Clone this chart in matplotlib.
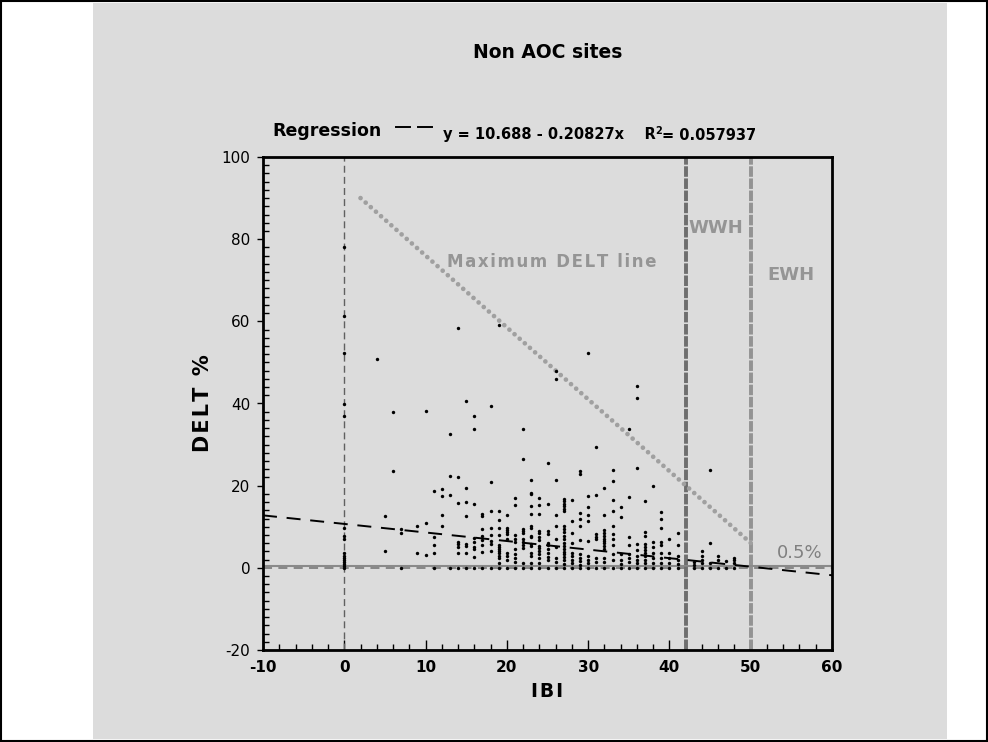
import matplotlib
matplotlib.use("Agg")
import matplotlib.pyplot as plt
from matplotlib.ticker import MultipleLocator
from matplotlib.patches import Rectangle

plt.rcParams["axes.unicode_minus"] = False

# ---------------- data ----------------
title = "Non AOC sites"
x_label = "IBI"
y_label = "DELT %"

ibi_values = [0, 4, 5, 6, 7, 9, 10, 11, 12, 13, 14, 15, 16, 17, 18, 19,
              20, 21, 22, 23, 24, 25, 26, 27, 28, 29, 30, 31, 32, 33, 34, 35,
              36, 37, 38, 39, 40, 41, 43, 44, 45, 46, 47, 48]

delt_values = [
    [78.0, 61.4, 52.4, 39.8, 37.0, 9.6, 7.7, 7.0, 3.6, 3.0, 2.5, 2.0, 1.5, 1.0, 0.5, 0],  # 0
    [50.8],                                                    # 4
    [12.7, 4.2],                                               # 5
    [37.9, 23.6],                                              # 6
    [9.4, 8.5, 0],                                             # 7
    [10.3, 3.7],                                               # 9
    [38.2, 11.0, 3.1],                                         # 10
    [18.6, 7.6, 5.6, 3.6, 0],                                  # 11
    [19.2, 17.5, 12.9, 10.3],                                  # 12
    [32.6, 22.4, 17.8, 0],                                     # 13
    [58.4, 22.1, 15.9, 6.3, 5.9, 5.1, 3.6, 0],                 # 14
    [40.7, 19.4, 16.0, 12.5, 5.9, 5.4, 3.6, 0],                # 15
    [37.0, 33.9, 15.6, 7.2, 6.3, 5.1, 4.7, 2.7, 0],            # 16
    [13.1, 12.7, 9.4, 7.8, 6.7, 5.6, 3.8, 0],                  # 17
    [39.4, 21.0, 13.9, 9.6, 7.9, 6.5, 5.9, 4.2, 0],            # 18
    [59.0, 13.9, 11.7, 9.7, 8.0, 5.5, 5.1, 4.7, 4.2, 3.6, 3.0, 2.5, 1.2, 0],  # 19
    [12.9, 9.6, 9.2, 8.7, 8.2, 6.9, 3.6, 2.8, 1.9, 0],         # 20
    [17.1, 15.4, 7.9, 6.9, 6.3, 4.5, 3.4, 2.5, 1.5, 0],        # 21
    [33.9, 26.6, 9.5, 8.9, 8.4, 6.9, 6.3, 5.6, 4.8, 1.2, 0],   # 22
    [21.5, 18.1, 17.9, 15.1, 13.1, 10.1, 9.6, 7.8, 7.4, 5.7, 5.3, 3.6, 2.8, 1.2, 0],  # 23
    [17.1, 15.4, 13.0, 9.0, 8.4, 7.4, 6.8, 5.3, 4.8, 4.2, 3.4, 2.5, 1.2, 0],  # 24
    [25.4, 15.6, 9.0, 8.2, 6.0, 5.5, 4.5, 3.6, 2.7, 1.8, 0],   # 25
    [47.8, 45.9, 21.5, 12.9, 10.3, 7.1, 5.1, 2.5, 1.5, 0],     # 26
    [16.7, 16.2, 15.6, 15.1, 14.4, 13.9, 10.1, 9.4, 8.7, 7.8, 7.1, 6.0, 5.3,
     4.6, 3.9, 3.3, 2.6, 1.9, 1.0, 0],                         # 27
    [16.4, 11.3, 8.4, 6.0, 3.7, 2.9, 2.0, 1.2, 0],             # 28
    [23.5, 22.8, 13.3, 12.0, 10.2, 6.8, 3.3, 2.5, 1.6, 0.8, 0],  # 29
    [52.4, 17.4, 14.7, 12.8, 11.4, 6.5, 3.0, 2.0, 1.2, 0],     # 30
    [29.3, 17.7, 8.2, 7.6, 6.9, 2.5, 1.5, 0],                  # 31
    [19.5, 12.9, 9.1, 8.4, 7.8, 7.1, 6.5, 6.0, 5.3, 4.5, 2.5, 1.5, 0],  # 32
    [23.8, 21.1, 16.5, 13.8, 10.2, 8.2, 6.9, 5.5, 3.3, 2.0, 0],  # 33
    [14.9, 12.4, 3.3, 2.0, 1.0, 0],                            # 34
    [33.9, 17.2, 7.6, 5.5, 3.3, 2.5, 1.5, 0],                  # 35
    [44.3, 41.3, 24.3, 5.7, 4.4, 3.0, 2.0, 1.2, 0],            # 36
    [16.3, 8.7, 7.8, 5.7, 5.0, 4.4, 3.6, 2.8, 2.0, 1.2, 0],    # 37
    [20.0, 6.3, 5.0, 3.6, 2.5, 1.2, 0],                        # 38
    [13.7, 11.8, 9.6, 6.3, 5.5, 3.6, 2.5, 1.2, 0],             # 39
    [6.9, 3.6, 2.5, 1.2, 0],                                   # 40
    [8.4, 5.5, 3.0, 2.0, 1.0, 0],                              # 41
    [1.5, 0.8, 0],                                             # 43
    [4.1, 2.9, 2.0, 1.2, 0],                                   # 44
    [23.8, 6.0, 1.2, 0],                                       # 45
    [2.8, 2.0, 0],                                             # 46
    [1.6, 0],                                                  # 47
    [2.5, 1.8, 1.2, 0],                                        # 48
]

reg_intercept = 10.688
reg_slope = -0.20827
reg_r2 = 0.057937

max_delt_x = [2.0, 50.6]
max_delt_y = [90.0, 5.0]

wwh_ibi = 42
ewh_ibi = 50
threshold_delt = 0.5

x_ticks = [-10, 0, 10, 20, 30, 40, 50, 60]
y_ticks = [-20, 0, 20, 40, 60, 80, 100]


def spaced(s, sep):
    return sep.join(list(s))


# ---------------- figure ----------------
W, H = 988, 742
fig = plt.figure(figsize=(W / 100, H / 100), dpi=100, facecolor="white")
grey = "#dcdcdc"
fig.patches.append(Rectangle((93 / W, 0.004), (947 - 93) / W, 0.992,
                             transform=fig.transFigure, facecolor=grey,
                             edgecolor="none", zorder=-10))
fig.patches.append(Rectangle((0.001, 0.001), 0.998, 0.997,
                             transform=fig.transFigure, facecolor="none",
                             edgecolor="black", linewidth=1.5, zorder=-9))

ax = fig.add_axes([263 / W, 1 - 650 / H, (832 - 263) / W, (650 - 157) / H])
ax.set_zorder(2)
ax.set_facecolor(grey)
ax.set_xlim(-10, 60)
ax.set_ylim(-20, 100)

for s in ax.spines.values():
    s.set_linewidth(2.0)
    s.set_color("black")

ax.set_xticks(x_ticks)
ax.set_yticks(y_ticks)
ax.xaxis.set_minor_locator(MultipleLocator(2))
ax.yaxis.set_minor_locator(MultipleLocator(2))
ax.tick_params(axis="x", which="major", direction="in", length=7, width=1,
               pad=7, labelsize=11)
ax.tick_params(axis="x", which="minor", direction="in", length=4, width=1)
ax.tick_params(axis="y", which="major", direction="out", length=4, width=1,
               pad=5, labelsize=11)
ax.tick_params(axis="y", which="minor", direction="in", length=4, width=1)
ax.tick_params(top=False, right=False)
for lab in ax.get_xticklabels():
    lab.set_fontweight("bold")

# reference lines
ax.axvline(0, color="#606060", lw=1.0, dashes=(5, 3), zorder=2)
ax.axhline(0, color="#808080", lw=1.3, dashes=(5, 3.5), zorder=2)
ax.axhline(threshold_delt, color="#8a8a8a", lw=1.5, zorder=2)
ax.axvline(wwh_ibi, color="#6e6e6e", lw=2.8, dashes=(2.7, 0.42), zorder=2)
ax.axvline(ewh_ibi, color="#939393", lw=2.8, dashes=(2.7, 0.42), zorder=2)

# maximum DELT dotted line
ax.plot(max_delt_x, max_delt_y, color="#a0a0a0", lw=3.4,
        linestyle=(0, (0.001, 1.45)), dash_capstyle="round", zorder=3)

# regression line
rx = [-10, 60]
ry = [reg_intercept + reg_slope * v for v in rx]
ax.plot(rx, ry, color="black", lw=1.4, dashes=(7.2, 5), zorder=4)

# scatter points
xs, ys = [], []
for xv, col in zip(ibi_values, delt_values):
    for yv in col:
        xs.append(xv)
        ys.append(yv)
ax.scatter(xs, ys, s=6, color="black", linewidths=0, zorder=5)

# annotations
gtxt = "#959595"
ax.text(12.6, 74.4, spaced("Maximum DELT line", "\u200a"), color=gtxt,
        fontsize=12, fontweight="bold", ha="left", va="center", zorder=6)
ax.text(42.4, 82.7, "WWH", color=gtxt, fontsize=13, fontweight="bold",
        ha="left", va="center", zorder=6)
ax.text(52.1, 71.3, "EWH", color=gtxt, fontsize=13, fontweight="bold",
        ha="left", va="center", zorder=6)
ax.text(53.2, 1.3, "0.5%", color="#808080", fontsize=13, ha="left",
        va="bottom", zorder=6)

# axis labels
ax.set_xlabel(spaced(x_label, "\u200a"), fontsize=13.5, fontweight="bold")
ax.set_ylabel(spaced(y_label, "\u200a"), fontsize=15, fontweight="bold")
ax.xaxis.set_label_coords(0.5, (650 - 682) / 493)
ax.yaxis.set_label_coords((213 - 263) / 569, 0.5)

# title
fig.text(548 / W, 1 - 52 / H, title, fontsize=13.5, fontweight="bold",
         ha="center", va="center")

# regression header
fig.text(272 / W, 1 - 136.5 / H, "Regression", fontsize=12.5,
         fontweight="bold", ha="left", va="baseline")
for x0, x1 in [(396, 410), (418, 432)]:
    fig.add_artist(plt.Line2D([x0 / W, x1 / W], [1 - 127 / H, 1 - 127 / H],
                              color="black", lw=1.4))

fig.canvas.draw()
r = fig.canvas.get_renderer()
eq_base = 1 - 139.5 / H
t1 = fig.text(443 / W, eq_base,
              f"y = {reg_intercept} - {abs(reg_slope)}x    R",
              fontsize=10.5, fontweight="bold", ha="left", va="baseline")
bb1 = t1.get_window_extent(r)
t2 = fig.text(bb1.x1 / W - 0.001, eq_base + 6 / H, "2", fontsize=7,
              fontweight="bold", ha="left", va="baseline")
bb2 = t2.get_window_extent(r)
fig.text(bb2.x1 / W, eq_base, f"= {reg_r2}", fontsize=10.5,
         fontweight="bold", ha="left", va="baseline")

fig.savefig("out.png", dpi=100, facecolor="white")
